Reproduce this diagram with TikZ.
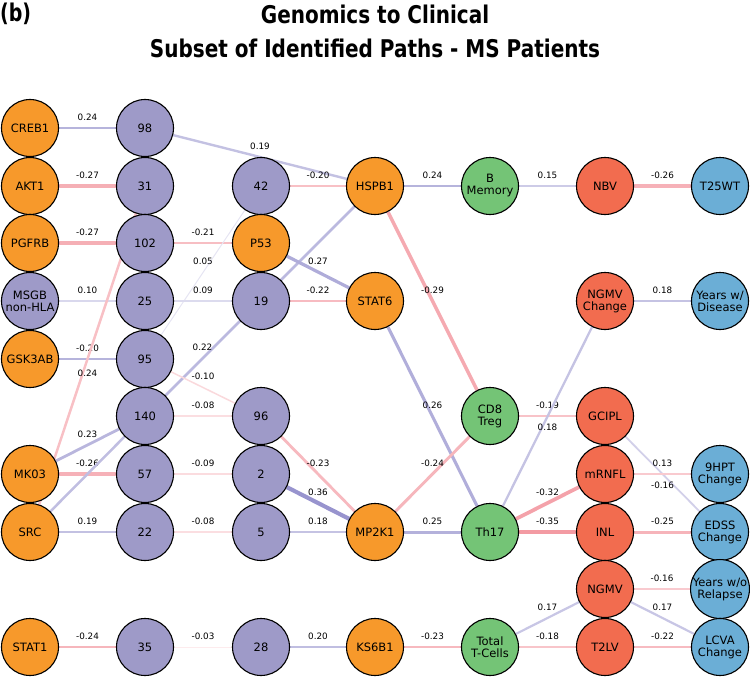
\documentclass[tikz,border=0pt]{standalone}
\usepackage{graphicx}
\usepackage{fontspec}
\setmainfont{DejaVu Sans}
\usetikzlibrary{backgrounds}
\definecolor{ProtOrange}{HTML}{F7992B}
\definecolor{ProbePurple}{HTML}{9E9AC8}
\definecolor{CellGreen}{HTML}{74C476}
\definecolor{ImgRed}{HTML}{F26C4F}
\definecolor{ClinBlue}{HTML}{6BAED6}
\definecolor{EdgeBlue}{HTML}{827DC3}
\definecolor{EdgeRed}{HTML}{F0828C}

\tikzset{
  bubble/.style={circle, draw=black, line width=1.1pt, minimum size=57pt, inner sep=0pt,
    align=center, font=\fontsize{11.5}{12}\selectfont},
  protein/.style={bubble, fill=ProtOrange},
  probe/.style={bubble, fill=ProbePurple},
  cellpop/.style={bubble, fill=CellGreen},
  imaging/.style={bubble, fill=ImgRed},
  clinical/.style={bubble, fill=ClinBlue},
  posedge/.code={\pgfmathsetmacro\edgemix{min(100,10+200*#1)}\pgfmathsetmacro\edgewd{0.5+10*#1}%
    \edef\edgeopts{draw=EdgeBlue!\edgemix!white, line width=\edgewd pt}%
    \expandafter\pgfkeysalso\expandafter{\edgeopts}},
  negedge/.code={\pgfmathsetmacro\edgemix{min(100,10+200*#1)}\pgfmathsetmacro\edgewd{0.5+10*#1}%
    \edef\edgeopts{draw=EdgeRed!\edgemix!white, line width=\edgewd pt}%
    \expandafter\pgfkeysalso\expandafter{\edgeopts}},
  lblup/.style={font=\fontsize{8.8}{10}\selectfont, text=black, inner sep=0pt, yshift=11pt},
  lbldown/.style={font=\fontsize{8.8}{10}\selectfont, text=black, inner sep=0pt, yshift=-11pt},
  headline/.style={font=\bfseries\fontsize{20}{24}\selectfont, inner sep=0pt},
}

\begin{document}
\begin{tikzpicture}[x=1pt, y=-1pt]
    \useasboundingbox (0,0) rectangle (750,677);

    % Title
    \node[headline] (title1) at (375,14) {\scalebox{1}[1.22]{Genomics to Clinical}};
    \node[headline] (title2) at (375,48) {\scalebox{1}[1.22]{Subset of Identified Paths - MS Patients}};
    \node[headline, anchor=north west] (tag) at (0,3) {\scalebox{0.95}[1.22]{(b)}};

    % Column 0: proteins
    \node[protein] (creb) at (30,128) {CREB1};
    \node[protein] (akt) at (30,186) {AKT1};
    \node[protein] (pgfrb) at (30,243) {PGFRB};
    \node[probe] (msgb) at (30,301) {MSGB\\non-HLA};
    \node[protein] (gsk) at (30,359) {GSK3AB};
    \node[protein] (mk03) at (30,474) {MK03};
    \node[protein] (src) at (30,532) {SRC};
    \node[protein] (stat1) at (30,647) {STAT1};

    % Column 1: probes
    \node[probe] (c98) at (145,128) {98};
    \node[probe] (c31) at (145,186) {31};
    \node[probe] (c102) at (145,243) {102};
    \node[probe] (c25) at (145,301) {25};
    \node[probe] (c95) at (145,359) {95};
    \node[probe] (c140) at (145,416) {140};
    \node[probe] (c57) at (145,474) {57};
    \node[probe] (c22) at (145,532) {22};
    \node[probe] (c35) at (145,647) {35};

    % Column 2
    \node[probe] (c42) at (261,186) {42};
    \node[protein] (p53) at (261,243) {P53};
    \node[probe] (c19) at (261,301) {19};
    \node[probe] (c96) at (261,416) {96};
    \node[probe] (c2) at (261,474) {2};
    \node[probe] (c5) at (261,532) {5};
    \node[probe] (c28) at (261,647) {28};

    % Column 3
    \node[protein] (hspb) at (375,186) {HSPB1};
    \node[protein] (stat6) at (375,301) {STAT6};
    \node[protein] (mp2k) at (375,532) {MP2K1};
    \node[protein] (ks6b) at (375,647) {KS6B1};

    % Column 4: cells
    \node[cellpop] (bmem) at (490,186) {B\\Memory};
    \node[cellpop] (cd8) at (490,416) {CD8\\Treg};
    \node[cellpop] (th17) at (490,532) {Th17};
    \node[cellpop] (tcell) at (490,647) {Total\\T-Cells};

    % Column 5: imaging
    \node[imaging] (nbv) at (605,186) {NBV};
    \node[imaging] (ngmvc) at (605,301) {NGMV\\Change};
    \node[imaging] (gcipl) at (605,416) {GCIPL};
    \node[imaging] (mrnfl) at (605,474) {mRNFL};
    \node[imaging] (inl) at (605,532) {INL};
    \node[imaging] (ngmv) at (605,589) {NGMV};
    \node[imaging] (t2lv) at (605,647) {T2LV};

    % Column 6: clinical
    \node[clinical] (t25wt) at (720,186) {T25WT};
    \node[clinical] (yrsdis) at (720,301) {Years w/\\Disease};
    \node[clinical] (hpt) at (720,474) {9HPT\\Change};
    \node[clinical] (edss) at (720,532) {EDSS\\Change};
    \node[clinical] (yrsrel) at (720,589) {Years w/o\\Relapse};
    \node[clinical] (lcva) at (720,647) {LCVA\\Change};

    \begin{scope}[on background layer]
    % Proteins to probes
    \draw[posedge=0.24] (creb) -- node[midway, lblup] {0.24} (c98);
    \draw[negedge=0.27] (akt) -- node[midway, lblup] {-0.27} (c31);
    \draw[negedge=0.27] (pgfrb) -- node[midway, lblup] {-0.27} (c102);
    \draw[posedge=0.10] (msgb) -- node[midway, lblup] {0.10} (c25);
    \draw[posedge=0.24] (gsk) -- node[midway, lblup] {-0.20} (c95);
    \draw[negedge=0.20] (src.center) -- node[midway, lbldown, yshift=-3pt] {0.24} (c31.center);
    \draw[posedge=0.23] (mk03) -- node[midway, lblup] {0.23} (c140);
    \draw[negedge=0.26] (mk03) -- node[midway, lblup] {-0.26} (c57);
    \draw[posedge=0.20] (src) -- (c140);
    \draw[posedge=0.19] (src) -- node[midway, lblup] {0.19} (c22);
    \draw[negedge=0.24] (stat1) -- node[midway, lblup] {-0.24} (c35);

    % Probes to column 2
    \draw[posedge=0.19] (c98) -- node[midway, lblup] {0.19} (hspb);
    \draw[negedge=0.21] (c102) -- node[midway, lblup] {-0.21} (p53);
    \draw[posedge=0.05] (c95) -- node[midway, lblup] {0.05} (c42);
    \draw[posedge=0.09] (c25) -- node[midway, lblup] {0.09} (c19);
    \draw[posedge=0.22] (c140.center) -- node[pos=0.25, lblup] {0.22} (hspb.center);
    \draw[negedge=0.10] (c95) -- node[midway, lblup] {-0.10} (c96);
    \draw[negedge=0.08] (c140) -- node[midway, lblup] {-0.08} (c96);
    \draw[negedge=0.09] (c57) -- node[midway, lblup] {-0.09} (c2);
    \draw[negedge=0.08] (c22) -- node[midway, lblup] {-0.08} (c5);
    \draw[negedge=0.03] (c35) -- node[midway, lblup] {-0.03} (c28);

    % Column 2 to column 3
    \draw[negedge=0.20] (c42) -- node[midway, lblup] {-0.20} (hspb);
    \draw[posedge=0.27] (p53) -- node[midway, lblup] {0.27} (stat6);
    \draw[negedge=0.22] (c19) -- node[midway, lblup] {-0.22} (stat6);
    \draw[negedge=0.23] (c96) -- node[midway, lblup] {-0.23} (mp2k);
    \draw[posedge=0.36] (c2) -- node[midway, lblup] {0.36} (mp2k);
    \draw[posedge=0.18] (c5) -- node[midway, lblup] {0.18} (mp2k);
    \draw[posedge=0.20] (c28) -- node[midway, lblup] {0.20} (ks6b);

    % Proteins to cells
    \draw[posedge=0.24] (hspb) -- node[midway, lblup] {0.24} (bmem);
    \draw[negedge=0.29] (hspb) -- node[midway, lblup] {-0.29} (cd8);
    \draw[posedge=0.26] (stat6) -- node[midway, lblup] {0.26} (th17);
    \draw[negedge=0.24] (mp2k) -- node[midway, lblup] {-0.24} (cd8);
    \draw[posedge=0.25] (mp2k) -- node[midway, lblup] {0.25} (th17);
    \draw[negedge=0.23] (ks6b) -- node[midway, lblup] {-0.23} (tcell);

    % Cells to imaging
    \draw[posedge=0.15] (bmem) -- node[midway, lblup] {0.15} (nbv);
    \draw[negedge=0.19] (cd8) -- node[midway, lblup] {-0.19} (gcipl);
    \draw[posedge=0.18] (th17) -- node[midway, lbldown] {0.18} (ngmvc);
    \draw[negedge=0.32] (th17) -- node[midway, lblup] {-0.32} (mrnfl);
    \draw[negedge=0.35] (th17) -- node[midway, lblup] {-0.35} (inl);
    \draw[posedge=0.17] (tcell) -- node[midway, lblup] {0.17} (ngmv);
    \draw[negedge=0.18] (tcell) -- node[midway, lblup] {-0.18} (t2lv);

    % Imaging to clinical
    \draw[negedge=0.26] (nbv) -- node[midway, lblup] {-0.26} (t25wt);
    \draw[posedge=0.18] (ngmvc) -- node[midway, lblup] {0.18} (yrsdis);
    \draw[posedge=0.13] (gcipl) -- node[midway, lblup] {0.13} (edss);
    \draw[negedge=0.16] (mrnfl) -- node[midway, lbldown] {-0.16} (hpt);
    \draw[negedge=0.25] (inl) -- node[midway, lblup] {-0.25} (edss);
    \draw[negedge=0.16] (ngmv) -- node[midway, lblup] {-0.16} (yrsrel);
    \draw[posedge=0.17] (ngmv) -- node[midway, lblup] {0.17} (lcva);
    \draw[negedge=0.22] (t2lv) -- node[midway, lblup] {-0.22} (lcva);
    \end{scope}
\end{tikzpicture}
\end{document}
